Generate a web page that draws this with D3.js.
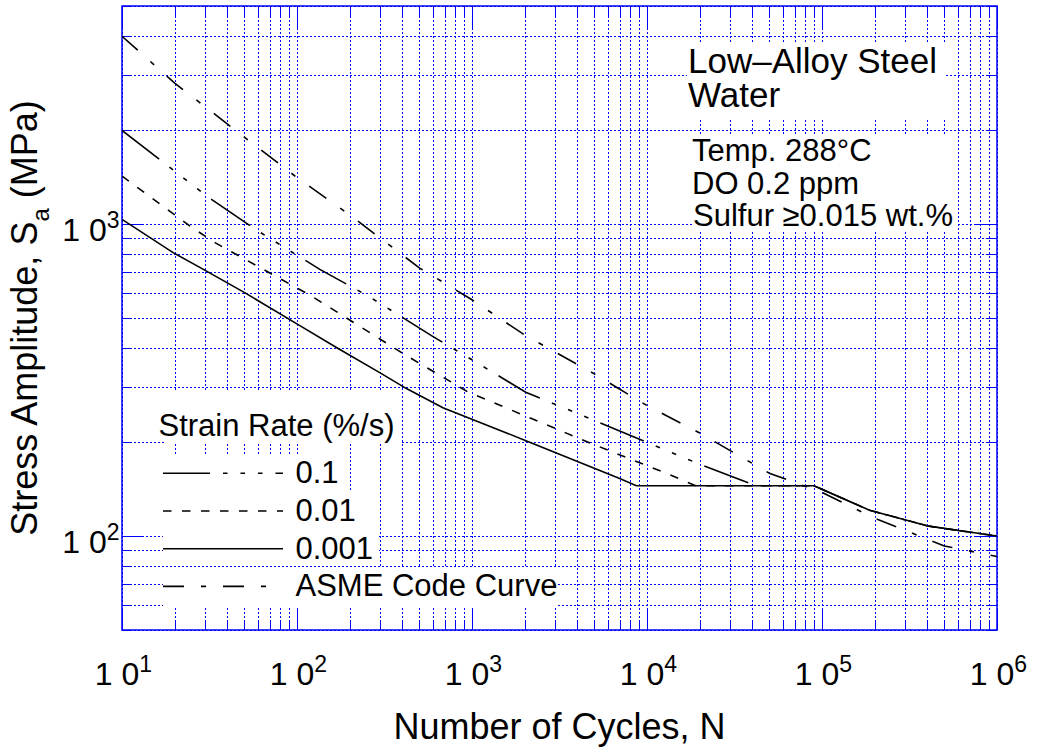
<!DOCTYPE html>
<html>
<head>
<meta charset="utf-8">
<script src="https://cdn.jsdelivr.net/npm/d3@7"></script>
<style>
  body { margin: 0; background: #fff; }
  text { font-family: "Liberation Sans", Arial, Helvetica, sans-serif; fill: #000; }
</style>
</head>
<body>
<script>
// Strain rate 0.1 %/s
var r1N = [10, 31.4, 59, 135, 255, 599, 1107, 2028, 4806, 11300, 20000, 32700, 42100, 90000, 187000, 403000, 1e6];
var r1S = [1995, 1215, 955, 716, 588, 436, 355, 289, 237, 194, 170, 153, 145, 145, 121, 107.7, 100];
// Strain rate 0.01 %/s
var r2N = [10, 24.9, 34.6, 121, 418, 945, 4806, 12500, 19000, 90000, 187000, 403000, 1e6];
var r2S = [1425, 978, 867, 588, 380, 290, 198, 160, 145, 145, 121, 107.7, 100];
// Strain rate 0.001 %/s
var r3N = [10, 19.6, 29.7, 50.2, 101, 168, 297, 422, 682, 2000, 6980, 8690, 90000, 187000, 403000, 1e6];
var r3S = [1035, 810, 712, 603, 477, 402, 334, 297, 258, 203, 153, 145, 145, 121, 107.7, 100];
// ASME code curve
var asmeN = [10, 20, 50, 100, 200, 500, 1000, 2000, 5000, 1e4, 2e4, 5e4, 1e5, 2e5, 5e5, 1e6];
var asmeS = [4000, 2830, 1900, 1410, 1070, 724, 572, 441, 331, 262, 214, 159, 138, 114, 93, 86];

var legendLabels = ["0.1", "0.01", "0.001", "ASME Code Curve"];
var xMajor = [1e1, 1e2, 1e3, 1e4, 1e5, 1e6];
var yMajor = [1e2, 1e3];

var margin = {top: 6, right: 43, bottom: 118, left: 122},
    width = 1040 - margin.left - margin.right,
    height = 748 - margin.top - margin.bottom;

var svg = d3.select("body").append("svg")
    .attr("width", 1040)
    .attr("height", 748);

var g = svg.append("g")
    .attr("transform", "translate(" + margin.left + "," + margin.top + ")");

var x = d3.scaleLog().domain([10, 1e6]).range([0, width]);
var y = d3.scaleLog().domain([50, 5000]).range([height, 0]);

var blue = "#0000ff";
var xMinor = x.ticks().filter(function(d) { return xMajor.indexOf(d) < 0; });
var yMinor = y.ticks().filter(function(d) { return yMajor.indexOf(d) < 0; });

// dotted grid
var xGrid = g.append("g")
    .attr("transform", "translate(0," + height + ")")
    .call(d3.axisBottom(x).tickSize(-height).tickFormat(""));
var yGrid = g.append("g")
    .call(d3.axisLeft(y).tickSize(-width).tickFormat(""));
[xGrid, yGrid].forEach(function(a) {
  a.select(".domain").remove();
  a.selectAll(".tick line")
    .attr("stroke", blue)
    .attr("stroke-width", 1)
    .attr("shape-rendering", "crispEdges")
    .attr("stroke-dasharray", "2,2");
});

// solid inward ticks on all four sides
function ticks(axis, scale, tr, vals, len) {
  var gg = g.append("g").attr("transform", tr)
    .call(axis(scale).tickValues(vals).tickSize(-len).tickFormat(""));
  gg.select(".domain").remove();
  gg.selectAll(".tick line")
    .attr("stroke", blue)
    .attr("stroke-width", 1)
    .attr("shape-rendering", "crispEdges");
}
ticks(d3.axisBottom, x, "translate(0," + height + ")", xMinor, 10);
ticks(d3.axisBottom, x, "translate(0," + height + ")", xMajor, 22);
ticks(d3.axisTop, x, "translate(0,0)", xMinor, 10);
ticks(d3.axisTop, x, "translate(0,0)", xMajor, 22);
ticks(d3.axisLeft, y, "translate(0,0)", yMinor, 10);
ticks(d3.axisLeft, y, "translate(0,0)", yMajor, 22);
ticks(d3.axisRight, y, "translate(" + width + ",0)", yMinor, 10);
ticks(d3.axisRight, y, "translate(" + width + ",0)", yMajor, 22);

// frame
g.append("rect")
  .attr("width", width).attr("height", height)
  .attr("fill", "none").attr("stroke", blue).attr("stroke-width", 1.5);

// white boxes behind annotation text
var boxes = [
  [687, 43, 946, 120], [693, 135, 957, 232],
  [165, 390, 402, 444],
  [163, 456, 345, 492], [163, 492, 361, 529], [163, 529, 379, 566], [163, 568, 557, 607]
];
svg.selectAll("rect.box").data(boxes).enter().append("rect")
  .attr("class", "box")
  .attr("x", function(d) { return d[0]; }).attr("y", function(d) { return d[1]; })
  .attr("width", function(d) { return d[2] - d[0]; }).attr("height", function(d) { return d[3] - d[1]; })
  .attr("fill", "#fff");

// curves
svg.append("clipPath").attr("id", "clip").append("rect")
  .attr("width", width).attr("height", height);

var line = d3.line()
  .x(function(d) { return x(d[0]); })
  .y(function(d) { return y(d[1]); });

var dashes = ["47,13,4.5,13,4.5,13,4.5,13", "8.5,10.5", null, "21,17,5,17"];
var series = [d3.zip(r1N, r1S), d3.zip(r2N, r2S), d3.zip(r3N, r3S), d3.zip(asmeN, asmeS)];

g.append("g").attr("clip-path", "url(#clip)")
  .selectAll("path").data(series).enter().append("path")
    .attr("d", line)
    .attr("fill", "none")
    .attr("stroke", "#000")
    .attr("stroke-width", 1.6)
    .attr("stroke-dasharray", function(d, i) { return dashes[i]; });

// legend
svg.append("text").attr("x", 158.5).attr("y", 436)
  .style("font-size", "31px").text("Strain Rate (%/s)");
var leg = svg.selectAll("g.leg").data(legendLabels).enter().append("g")
  .attr("class", "leg")
  .attr("transform", function(d, i) { return "translate(0," + (473.3 + i * 37.7) + ")"; });
leg.append("line")
  .attr("x1", 163).attr("x2", 283)
  .attr("stroke", "#000").attr("stroke-width", 1.6)
  .attr("stroke-dasharray", function(d, i) { return dashes[i]; });
leg.append("text").attr("x", 295.5).attr("y", 10)
  .style("font-size", "31px").text(function(d) { return d; });

// annotation
svg.append("text").attr("x", 688).attr("y", 73.3).style("font-size", "35px").text("Low\u2013Alloy Steel");
svg.append("text").attr("x", 688).attr("y", 107.3).style("font-size", "35px").text("Water");
svg.append("text").attr("x", 692).attr("y", 161).style("font-size", "31px").text("Temp. 288\u00b0C");
svg.append("text").attr("x", 692).attr("y", 193.5).style("font-size", "31px").text("DO 0.2 ppm");
svg.append("text").attr("x", 693).attr("y", 226).style("font-size", "31px").text("Sulfur \u22650.015 wt.%");

// tick labels
function power(sel) {
  sel.append("tspan").text("1 0");
  sel.append("tspan").attr("dy", -13).style("font-size", "23px")
    .text(function(d) { return Math.round(Math.log10(d)); });
}
g.selectAll("text.xl").data(xMajor).enter().append("text")
  .attr("class", "xl")
  .attr("x", function(d) { return x(d) + 1.5; })
  .attr("y", height + 55)
  .attr("text-anchor", "middle")
  .style("font-size", "32px")
  .call(power);
g.selectAll("text.yl").data(yMajor).enter().append("text")
  .attr("class", "yl")
  .attr("x", -2.5)
  .attr("y", function(d) { return y(d) + 17; })
  .attr("text-anchor", "end")
  .style("font-size", "32px")
  .call(power);

// axis titles
svg.append("text")
  .attr("x", margin.left + width / 2).attr("y", 739)
  .attr("text-anchor", "middle")
  .style("font-size", "36px")
  .text("Number of Cycles, N");

var yt = svg.append("text")
  .attr("transform", "translate(36.5," + (margin.top + height / 2) + ") rotate(-90)")
  .attr("text-anchor", "middle")
  .style("font-size", "36px");
yt.append("tspan").text("Stress Amplitude, S");
yt.append("tspan").attr("dy", 12).style("font-size", "24px").text("a");
yt.append("tspan").attr("dy", -12).text(" (MPa)");
</script>
</body>
</html>
